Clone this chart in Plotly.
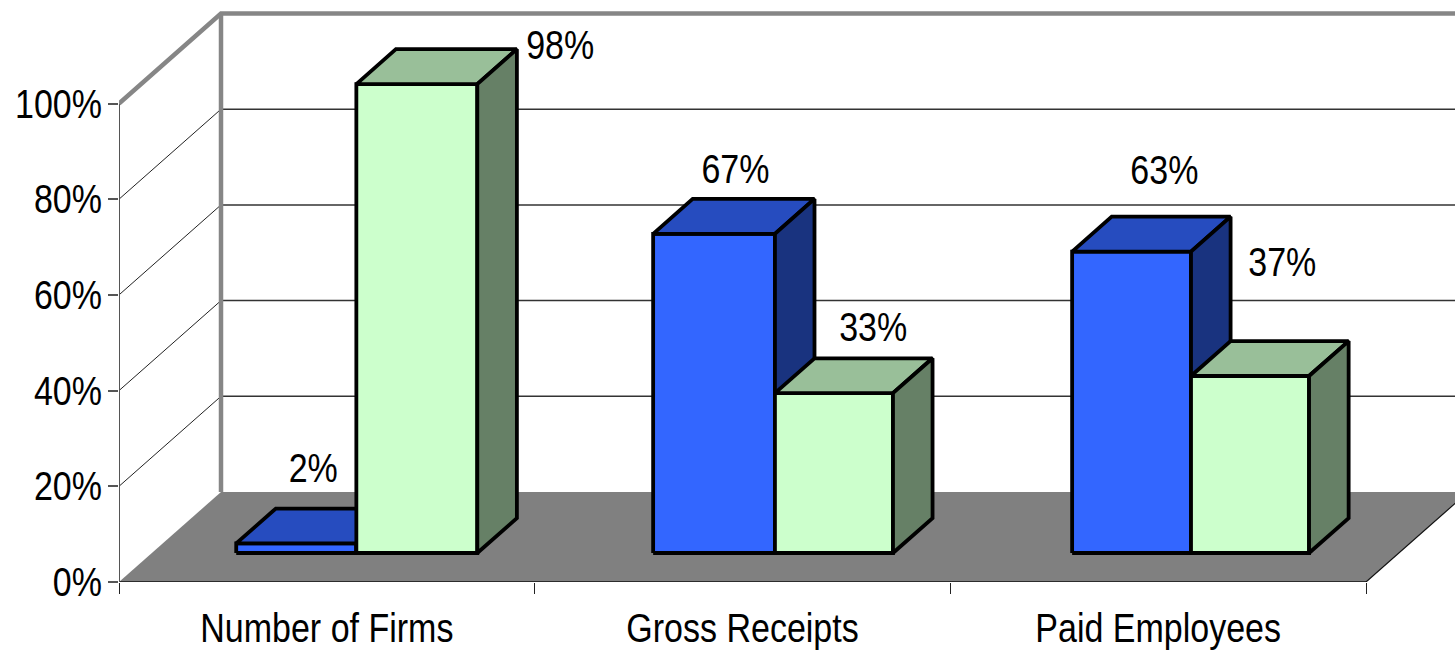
import plotly.graph_objects as go

categories = ["Number of Firms", "Gross Receipts", "Paid Employees"]
series_a = [2, 66.7, 63]
series_b = [98, 33.4, 37]
y_ticks = [0, 20, 40, 60, 80, 100]
y_tick_labels = ["0%", "20%", "40%", "60%", "80%", "100%"]

# pixel geometry of the plot: axis scales
PX_PER_CAT = 1247 / 3
PX_PER_PCT = 4.785
# oblique depth, in axis units per unit of depth
DX = 102 / PX_PER_CAT
DY = 90 / PX_PER_PCT
Z0, Z1 = 0.322, 0.71
LEFT = [0.203, 0.206, 0.214]
MID = [0.492, 0.499, 0.500]
RIGHT = [0.783, 0.783, 0.784]

FONT = "Liberation Sans, Arial, sans-serif"
FS = 40
BLUE = ("#3366FF", "#264CBF", "#19337F")
GREEN = ("#CCFFCC", "#99BF99", "#668066")


def P(x, v, z):
    return x + z * DX, v + z * DY


fig = go.Figure()


def poly(points, fill=None, color="black", width=0, clip=True):
    xs = [p[0] for p in points]
    ys = [p[1] for p in points]
    kw = dict(fill="toself", fillcolor=fill) if fill else {}
    fig.add_trace(go.Scatter(x=xs, y=ys, mode="lines", cliponaxis=clip,
                             line=dict(color=color, width=width), hoverinfo="skip",
                             showlegend=False, **kw))


# floor
poly([P(0, 0, 0), P(3, 0, 0), P(3, 0, 1), P(0, 0, 1), P(0, 0, 0)], fill="#808080")
poly([P(3, 0, 0), P(3, 0, 1)], color="#111111", width=1.2)
poly([P(0, 0, 0), P(3, 0, 0)], color="#111111", width=1.5, clip=False)

# gridlines on side wall and back wall
for t in y_ticks[1:-1]:
    poly([P(0, t, 0), P(0, t, 1)], color="#222222", width=1)
    poly([P(0, t, 1), P(3.2, t, 1)], color="#333333", width=1.5)

# wall frame
poly([P(0, 0, 0), P(0, 100, 0)], color="#555555", width=2, clip=False)
poly([P(0, 100, 0), P(0, 100, 1), P(3.2, 100, 1)], color="#868686", width=4.5, clip=False)
poly([P(0, 0, 1), P(0, 100, 1)], color="#868686", width=4.5)


def bar(x0, x1, v, cols):
    lw = 3.8
    poly([P(x0, 0, Z0), P(x1, 0, Z0), P(x1, v, Z0), P(x0, v, Z0), P(x0, 0, Z0)],
         fill=cols[0], width=lw)
    poly([P(x0, v, Z0), P(x1, v, Z0), P(x1, v, Z1), P(x0, v, Z1), P(x0, v, Z0)],
         fill=cols[1], width=lw)
    poly([P(x1, 0, Z0), P(x1, 0, Z1), P(x1, v, Z1), P(x1, v, Z0), P(x1, 0, Z0)],
         fill=cols[2], width=lw)


for i in range(len(categories)):
    bar(i + LEFT[i], i + MID[i], series_a[i], BLUE)
    bar(i + MID[i], i + RIGHT[i], series_b[i], GREEN)

# data labels: placed relative to each bar's top, offsets in pixels
a_off = [(16.7, 71), (22, 61), (32, 78)]
b_off = [(143.6, 35), (38, 62), (31, 110)]
for vals, offs, edge in ((series_a, a_off, LEFT), (series_b, b_off, MID)):
    xs, ys, txt = [], [], []
    for i, (v, (ox, oy)) in enumerate(zip(vals, offs)):
        x, y = P(i + edge[i] + 0.145, v, Z0)
        xs.append(x + ox / PX_PER_CAT)
        ys.append(y + oy / PX_PER_PCT)
        txt.append(f"{v:.0f}%")
    fig.add_trace(go.Scatter(x=xs, y=ys, text=txt, mode="text", textposition="middle center",
                             textfont=dict(family=FONT, size=FS, color="black"),
                             hoverinfo="skip", showlegend=False))

fig.update_layout(
    width=1455, height=652, autosize=False,
    margin=dict(l=119, r=0, t=0, b=70),
    paper_bgcolor="white", plot_bgcolor="white", showlegend=False,
    font=dict(family=FONT, size=FS, color="black"),
    xaxis=dict(range=[0, 1336 / PX_PER_CAT], tickmode="array",
               tickvals=[0.5, 1.5, 2.5], ticktext=categories, ticks="", showgrid=False,
               zeroline=False, showline=False,
               ticklabelstandoff=19, automargin=False,
               minor=dict(tickmode="array", tickvals=[0, 1, 2, 3], ticks="outside", ticklen=11,
                          tickwidth=1.2, tickcolor="#222222", showgrid=False)),
    yaxis=dict(range=[0, 582 / PX_PER_PCT], tickmode="array", tickvals=y_ticks,
               ticktext=y_tick_labels, ticks="outside", ticklen=10, tickwidth=1.5,
               tickcolor="#555555", showgrid=False, zeroline=False, showline=False,
               automargin=False, ticklabelstandoff=-2),
)

# the reference's lettering is horizontally condensed
POST = """
document.body.style.margin='0';document.body.style.overflow='hidden';
document.querySelectorAll('svg text').forEach(function(t){
  if(t.textContent){
    t.setAttribute('textLength', t.getComputedTextLength()*0.85);
    t.setAttribute('lengthAdjust','spacingAndGlyphs');
  }
});
"""
fig.write_html("out.html", post_script=POST, config={"displayModeBar": False})
